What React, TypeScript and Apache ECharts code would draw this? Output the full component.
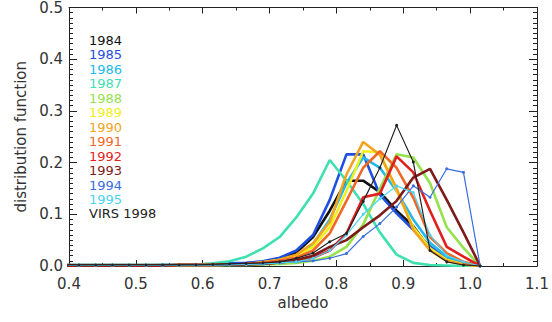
import React, { useEffect, useRef } from "react";
import * as echarts from "echarts";

const albedo = [0.39, 0.415, 0.44, 0.465, 0.49, 0.515, 0.54, 0.565, 0.59, 0.615, 0.64, 0.665, 0.69, 0.715, 0.74, 0.765, 0.79, 0.815, 0.84, 0.865, 0.89, 0.915, 0.94, 0.965, 0.99, 1.015];

const y1984 = [0.002, 0.002, 0.002, 0.002, 0.002, 0.002, 0.002, 0.002, 0.003, 0.003, 0.004, 0.005, 0.008, 0.014, 0.026, 0.056, 0.107, 0.165, 0.165, 0.143, 0.107, 0.077, 0.033, 0.012, 0.003, 0];
const y1985 = [0.001, 0.001, 0.001, 0.001, 0.001, 0.001, 0.002, 0.002, 0.003, 0.004, 0.005, 0.006, 0.009, 0.016, 0.03, 0.06, 0.128, 0.216, 0.216, 0.138, 0.102, 0.07, 0.038, 0.013, 0.003, 0];
const y1986 = [0.001, 0.001, 0.001, 0.001, 0.001, 0.001, 0.001, 0.001, 0.002, 0.002, 0.003, 0.004, 0.006, 0.01, 0.02, 0.042, 0.09, 0.16, 0.21, 0.19, 0.145, 0.09, 0.045, 0.018, 0.005, 0];
const y1987 = [0.002, 0.002, 0.002, 0.002, 0.002, 0.002, 0.002, 0.002, 0.003, 0.005, 0.009, 0.018, 0.034, 0.056, 0.094, 0.14, 0.205, 0.165, 0.12, 0.065, 0.022, 0.006, 0.002, 0.001, 0, 0];
const y1988 = [0.001, 0.001, 0.001, 0.001, 0.001, 0.001, 0.001, 0.001, 0.001, 0.001, 0.002, 0.002, 0.003, 0.004, 0.006, 0.01, 0.018, 0.037, 0.08, 0.15, 0.216, 0.21, 0.16, 0.075, 0.035, 0];
const y1989 = [0.001, 0.001, 0.001, 0.001, 0.001, 0.001, 0.001, 0.002, 0.002, 0.002, 0.003, 0.004, 0.007, 0.012, 0.02, 0.037, 0.075, 0.145, 0.222, 0.22, 0.146, 0.075, 0.034, 0.012, 0.003, 0];
const y1990 = [0.001, 0.001, 0.001, 0.001, 0.001, 0.001, 0.001, 0.002, 0.002, 0.002, 0.003, 0.004, 0.007, 0.012, 0.022, 0.044, 0.085, 0.177, 0.24, 0.215, 0.15, 0.07, 0.03, 0.01, 0.003, 0];
const y1991 = [0.001, 0.001, 0.001, 0.001, 0.001, 0.001, 0.001, 0.002, 0.002, 0.002, 0.003, 0.004, 0.006, 0.01, 0.016, 0.03, 0.063, 0.126, 0.19, 0.222, 0.19, 0.132, 0.056, 0.025, 0.008, 0];
const y1992 = [0.001, 0.001, 0.001, 0.001, 0.001, 0.001, 0.001, 0.002, 0.002, 0.002, 0.003, 0.004, 0.005, 0.007, 0.01, 0.016, 0.03, 0.063, 0.133, 0.14, 0.212, 0.181, 0.107, 0.037, 0.018, 0];
const y1993 = [0.001, 0.001, 0.001, 0.001, 0.001, 0.001, 0.001, 0.002, 0.002, 0.002, 0.003, 0.003, 0.004, 0.007, 0.012, 0.02, 0.037, 0.05, 0.075, 0.098, 0.126, 0.171, 0.188, 0.128, 0.065, 0];
const y1994 = [0.001, 0.001, 0.001, 0.001, 0.001, 0.001, 0.001, 0.001, 0.002, 0.002, 0.003, 0.003, 0.004, 0.006, 0.008, 0.01, 0.015, 0.024, 0.057, 0.082, 0.114, 0.155, 0.133, 0.188, 0.181, 0];
const y1995 = [0.001, 0.001, 0.001, 0.001, 0.001, 0.001, 0.001, 0.001, 0.001, 0.002, 0.002, 0.003, 0.004, 0.006, 0.008, 0.015, 0.03, 0.06, 0.1, 0.13, 0.155, 0.142, 0.06, 0.02, 0.008, 0];
const yVirs = [0.002, 0.002, 0.002, 0.002, 0.002, 0.002, 0.002, 0.002, 0.002, 0.003, 0.004, 0.005, 0.006, 0.008, 0.015, 0.025, 0.047, 0.063, 0.125, 0.19, 0.272, 0.201, 0.03, 0.008, 0.002, 0];

const seriesNames = ["1984", "1985", "1986", "1987", "1988", "1989", "1990", "1991", "1992", "1993", "1994", "1995", "VIRS 1998"];
const seriesValues = [y1984, y1985, y1986, y1987, y1988, y1989, y1990, y1991, y1992, y1993, y1994, y1995, yVirs];
const seriesColors = ["#111111", "#1f4fe0", "#22b8ee", "#3ee0b0", "#96e24c", "#f2ee1c", "#f2a41e", "#f06828", "#e21e1e", "#7e1a1a", "#3a6ee0", "#48d4f4", "#222222"];
const thinSeries = ["1994", "1995", "VIRS 1998"];

const xTicks = [0.4, 0.5, 0.6, 0.7, 0.8, 0.9, 1.0, 1.1];
const yTicks = [0.0, 0.1, 0.2, 0.3, 0.4, 0.5];

export default function App() {
  const ref = useRef<HTMLDivElement>(null);
  useEffect(() => {
    if (!ref.current) return;
    const chart = echarts.init(ref.current, undefined, { renderer: "svg" });
    const font = "DejaVu Sans";
    const axisCommon = {
      type: "value" as const,
      axisLine: { show: true, onZero: false, lineStyle: { color: "#222", width: 1 } },
      splitLine: { show: false },
    };
    const series = seriesNames.map((name, i) => {
      const thin = thinSeries.includes(name);
      return {
        name,
        type: "line",
        data: albedo.map((a, k) => [a, seriesValues[i][k]]),
        showSymbol: thin,
        symbol: "circle",
        symbolSize: 3,
        clip: true,
        lineStyle: { color: seriesColors[i], width: thin ? 1.2 : 2.6 },
        itemStyle: { color: seriesColors[i] },
        z: thin ? 3 : 2,
      };
    });
    const legend = seriesNames.map((name, i) => ({
      type: "text",
      left: 89,
      top: 34 + i * 14.45,
      style: { text: name, fill: seriesColors[i], font: `13px "${font}"` },
    }));
    chart.setOption({
      animation: false,
      backgroundColor: "#ffffff",
      grid: { left: 69, right: 15, top: 5, bottom: 56 },
      xAxis: [
        {
          ...axisCommon,
          position: "bottom",
          min: 0.4,
          max: 1.1,
          interval: 0.1,
          name: "albedo",
          nameLocation: "middle",
          nameGap: 26,
          nameTextStyle: { fontFamily: font, fontSize: 15, color: "#333" },
          axisTick: { show: true, inside: true, length: 6, lineStyle: { color: "#222" } },
          minorTick: { show: true, splitNumber: 2, length: 3, lineStyle: { color: "#222" } },
          axisLabel: {
            margin: 10,
            fontFamily: font,
            fontSize: 15,
            color: "#333",
            formatter: (v: number) => (xTicks.some((t) => Math.abs(t - v) < 1e-6) ? v.toFixed(1) : ""),
          },
        },
        {
          ...axisCommon,
          position: "top",
          min: 0.4,
          max: 1.1,
          interval: 0.1,
          axisTick: { show: true, inside: true, length: 6, lineStyle: { color: "#222" } },
          minorTick: { show: true, splitNumber: 2, length: 3, lineStyle: { color: "#222" } },
          axisLabel: { show: false },
        },
      ],
      yAxis: [
        {
          ...axisCommon,
          position: "left",
          min: 0,
          max: 0.5,
          interval: 0.1,
          name: "distribution function",
          nameLocation: "middle",
          nameGap: 40,
          nameTextStyle: { fontFamily: font, fontSize: 15, color: "#333" },
          axisTick: { show: true, inside: true, length: 8, lineStyle: { color: "#222" } },
          minorTick: { show: true, splitNumber: 10, length: 4, lineStyle: { color: "#222" } },
          axisLabel: {
            margin: 6,
            fontFamily: font,
            fontSize: 15,
            color: "#333",
            formatter: (v: number) => (yTicks.some((t) => Math.abs(t - v) < 1e-6) ? v.toFixed(1) : ""),
          },
        },
        {
          ...axisCommon,
          position: "right",
          min: 0,
          max: 0.5,
          interval: 0.1,
          axisTick: { show: true, inside: true, length: 8, lineStyle: { color: "#222" } },
          minorTick: { show: true, splitNumber: 10, length: 4, lineStyle: { color: "#222" } },
          axisLabel: { show: false },
        },
      ],
      series,
      graphic: legend,
    });
    return () => chart.dispose();
  }, []);
  return <div ref={ref} style={{ position: "fixed", left: 0, top: 0, width: 552, height: 322 }} />;
}
